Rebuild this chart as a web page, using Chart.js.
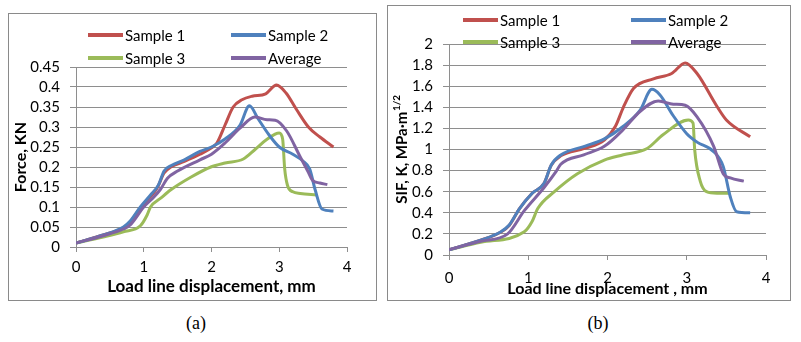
<!DOCTYPE html>
<html><head><meta charset="utf-8">
<script src="https://cdn.jsdelivr.net/npm/chart.js@4.4.1/dist/chart.umd.min.js"></script>
<style>
body{margin:0;width:801px;height:342px;background:#fff;position:relative;overflow:hidden;font-family:Lato,sans-serif}
.panel{position:absolute;border:1px solid #8a8a8a;box-sizing:border-box}
canvas{position:absolute;top:0}
.leg{position:absolute;font:15px Lato;color:#000;white-space:nowrap;display:flex;align-items:center;height:18px;transform:translateY(-50%)}
.leg .l{display:inline-block;width:35px;height:4px;margin-right:2px}
.cap{position:absolute;font:18px "Liberation Serif";transform:translate(-50%,-50%)}
</style></head><body>
<div class="panel" style="left:8px;top:13px;width:369px;height:288px"></div>
<div class="panel" style="left:387px;top:5px;width:404px;height:296px"></div>
<canvas id="ca" width="385" height="310" style="left:0"></canvas>
<canvas id="cb" width="416" height="310" style="left:385px"></canvas>
<div class="cap" style="left:196px;top:323px">(a)</div>
<div class="cap" style="left:598px;top:323px">(b)</div>
<script>
// ---- names & colours ----
const seriesNames = ["Sample 1", "Sample 2", "Sample 3", "Average"];
const seriesColors = ["#C0504D", "#4F81BD", "#9BBB59", "#8064A2"];

// ---- tick labels ----
const xTicks = [0, 1, 2, 3, 4];
const yTicksA = [0, 0.05, 0.1, 0.15, 0.2, 0.25, 0.3, 0.35, 0.4, 0.45];
const yTicksB = [0, 0.2, 0.4, 0.6, 0.8, 1, 1.2, 1.4, 1.6, 1.8, 2];

// ---- chart (a): Force, KN ----
const a1X = [0, 0.4, 0.7, 0.8, 0.95, 1.2, 1.3, 1.4, 1.6, 1.83, 2.0, 2.08, 2.2, 2.32, 2.45, 2.6, 2.8, 2.96, 3.1, 3.25, 3.43, 3.6, 3.8];
const a1Y = [0.01, 0.03, 0.048, 0.062, 0.098, 0.148, 0.185, 0.2, 0.214, 0.232, 0.248, 0.26, 0.305, 0.35, 0.368, 0.377, 0.383, 0.405, 0.385, 0.345, 0.3, 0.275, 0.25];
const a2X = [0, 0.4, 0.7, 0.8, 0.95, 1.1, 1.22, 1.3, 1.4, 1.6, 1.83, 2.0, 2.2, 2.42, 2.56, 2.69, 2.85, 3.0, 3.2, 3.35, 3.45, 3.53, 3.63, 3.8];
const a2Y = [0.01, 0.03, 0.05, 0.065, 0.1, 0.13, 0.156, 0.19, 0.203, 0.218, 0.239, 0.25, 0.27, 0.304, 0.353, 0.32, 0.28, 0.25, 0.232, 0.215, 0.195, 0.143, 0.095, 0.09];
const a3X = [0, 0.4, 0.7, 0.95, 1.05, 1.1, 1.25, 1.4, 1.7, 1.99, 2.2, 2.47, 2.65, 2.81, 3.0, 3.05, 3.08, 3.12, 3.2, 3.31, 3.55];
const a3Y = [0.01, 0.025, 0.038, 0.053, 0.08, 0.1, 0.122, 0.143, 0.175, 0.2, 0.21, 0.22, 0.245, 0.268, 0.285, 0.27, 0.196, 0.155, 0.138, 0.134, 0.13];
const aAvgX = [0, 0.4, 0.7, 0.8, 1.0, 1.15, 1.25, 1.35, 1.5, 1.83, 2.0, 2.2, 2.42, 2.64, 2.82, 2.94, 3.11, 3.31, 3.42, 3.49, 3.6, 3.71];
const aAvgY = [0.01, 0.028, 0.045, 0.055, 0.1, 0.125, 0.145, 0.172, 0.19, 0.218, 0.232, 0.26, 0.297, 0.325, 0.318, 0.317, 0.29, 0.225, 0.19, 0.167, 0.16, 0.156];

// ---- chart (b): SIF, K ----
const b1X = [0, 0.4, 0.65, 0.76, 0.89, 1.05, 1.2, 1.29, 1.41, 1.71, 1.96, 2.1, 2.2, 2.33, 2.58, 2.81, 2.98, 3.13, 3.38, 3.5, 3.8];
const b1Y = [0.05, 0.14, 0.215, 0.28, 0.44, 0.585, 0.68, 0.85, 0.94, 1.01, 1.09, 1.22, 1.4, 1.58, 1.67, 1.72, 1.82, 1.72, 1.41, 1.28, 1.12];
const b2X = [0, 0.4, 0.655, 0.76, 0.89, 1.05, 1.2, 1.29, 1.41, 1.71, 1.96, 2.2, 2.41, 2.56, 2.66, 2.83, 3.0, 3.13, 3.34, 3.46, 3.55, 3.63, 3.8];
const b2Y = [0.05, 0.14, 0.22, 0.284, 0.44, 0.585, 0.68, 0.853, 0.948, 1.03, 1.1, 1.22, 1.37, 1.57, 1.52, 1.32, 1.15, 1.07, 0.98, 0.84, 0.55, 0.41, 0.4];
const b3X = [0, 0.4, 0.95, 1.05, 1.12, 1.33, 1.62, 1.96, 2.2, 2.5, 2.7, 3.02, 3.08, 3.1, 3.17, 3.25, 3.38, 3.55];
const b3Y = [0.05, 0.12, 0.22, 0.32, 0.44, 0.6, 0.77, 0.9, 0.95, 1.01, 1.14, 1.28, 1.25, 1.0, 0.7, 0.6, 0.585, 0.585];
const bAvgX = [0, 0.4, 0.74, 0.95, 1.2, 1.35, 1.41, 1.7, 1.96, 2.2, 2.41, 2.64, 2.83, 2.98, 3.13, 3.34, 3.46, 3.55, 3.72];
const bAvgY = [0.05, 0.13, 0.2, 0.42, 0.64, 0.79, 0.86, 0.95, 1.03, 1.19, 1.36, 1.46, 1.43, 1.42, 1.31, 1.03, 0.77, 0.73, 0.7];

const GRID = '#8e8e8e';
const zip = (xs, ys) => xs.map((x, i) => ({x, y: ys[i]}));
const drawOrder = [4, 2, 3, 1];

function makeChart(id, xs, ys, yTicks, yMax, cfg) {
  const datasets = xs.map((x, i) => ({
    label: seriesNames[i],
    data: zip(x, ys[i]),
    borderColor: seriesColors[i],
    backgroundColor: seriesColors[i],
    borderWidth: 3,
    pointRadius: 0,
    fill: false,
    cubicInterpolationMode: 'monotone',
    order: drawOrder[i]
  }));
  return new Chart(document.getElementById(id), {
    type: 'line',
    data: {datasets},
    plugins: cfg.plugins || [],
    options: {
      responsive: false, animation: false, events: [],
      layout: {padding: cfg.padding},
      plugins: {legend: {display: false}, tooltip: {enabled: false}},
      scales: {
        x: {
          type: 'linear', min: 0, max: 4,
          afterBuildTicks: s => { s.ticks = xTicks.map(v => ({value: v})); },
          afterFit: s => { s.height = cfg.xH; },
          ticks: {autoSkip: false, maxRotation: 0, color: '#000', font: {family: 'Lato', size: 15}, padding: cfg.xPad, callback: v => String(v)},
          grid: {drawOnChartArea: false, drawTicks: true, tickLength: 5, color: GRID},
          border: {display: true, color: GRID, width: 1},
          title: {display: true, text: cfg.xTitle, color: '#000', font: {family: 'Lato', size: cfg.xTitleSize, weight: 'bold'}, padding: {top: 0, bottom: cfg.xTitlePad}}
        },
        y: {
          type: 'linear', min: 0, max: yMax,
          afterBuildTicks: s => { s.ticks = yTicks.map(v => ({value: v})); },
          afterFit: s => { s.width = cfg.yW; },
          ticks: {autoSkip: false, color: '#000', font: {family: 'Lato', size: 15}, padding: 10, callback: v => String(v)},
          grid: {drawOnChartArea: true, drawTicks: true, tickLength: 6, color: GRID, lineWidth: 1},
          border: {display: true, color: GRID, width: 1},
          title: {display: !!cfg.yTitle, text: cfg.yTitle || '', color: '#000', font: {family: 'Lato', size: 16, weight: 'bold'}, padding: {top: cfg.yTitlePad || 0, bottom: 0}}
        }
      }
    }
  });
}

const sifTitle = {
  id: 'sifTitle',
  afterDraw(chart) {
    const ctx = chart.ctx, ca = chart.chartArea;
    const main = 'SIF, K, MPa\u00B7m', sup = '1/2';
    ctx.save();
    ctx.translate(17, (ca.top + ca.bottom) / 2);
    ctx.rotate(-Math.PI / 2);
    ctx.fillStyle = '#000';
    ctx.textBaseline = 'middle';
    ctx.font = 'bold 15px Lato';
    const w1 = ctx.measureText(main).width;
    ctx.font = 'bold 10px Lato';
    const w2 = ctx.measureText(sup).width;
    const start = -(w1 + w2) / 2;
    ctx.font = 'bold 15px Lato';
    ctx.fillText(main, start, 0);
    ctx.font = 'bold 10px Lato';
    ctx.fillText(sup, start + w1 + 0.5, -5);
    ctx.restore();
  }
};

makeChart('ca', [a1X, a2X, a3X, aAvgX], [a1Y, a2Y, a3Y, aAvgY], yTicksA, 0.45, {
  padding: {left: 0, top: 67, right: 38, bottom: 0},
  xH: 63, yW: 76, xPad: 6, xTitlePad: 13, xTitleSize: 17,
  xTitle: 'Load line displacement, mm', yTitle: 'Force, KN', yTitlePad: 11
});
makeChart('cb', [b1X, b2X, b3X, bAvgX], [b1Y, b2Y, b3Y, bAvgY], yTicksB, 2, {
  padding: {left: 0, top: 44, right: 35, bottom: 0},
  xH: 55, yW: 64, xPad: 9, xTitlePad: 12, xTitleSize: 16,
  xTitle: 'Load line displacement , mm', plugins: [sifTitle]
});

// ---- HTML legends ----
function legend(positions) {
  positions.forEach((p, i) => {
    const d = document.createElement('div');
    d.className = 'leg';
    d.style.left = p[0] + 'px';
    d.style.top = p[1] + 'px';
    d.innerHTML = '<span class="l" style="background:' + seriesColors[i] + '"></span>' + seriesNames[i];
    document.body.appendChild(d);
  });
}
legend([[88, 35], [231, 35], [88, 58], [231, 58]]);
legend([[463, 20], [631, 20], [463, 42], [631, 42]]);
</script>
</body></html>
